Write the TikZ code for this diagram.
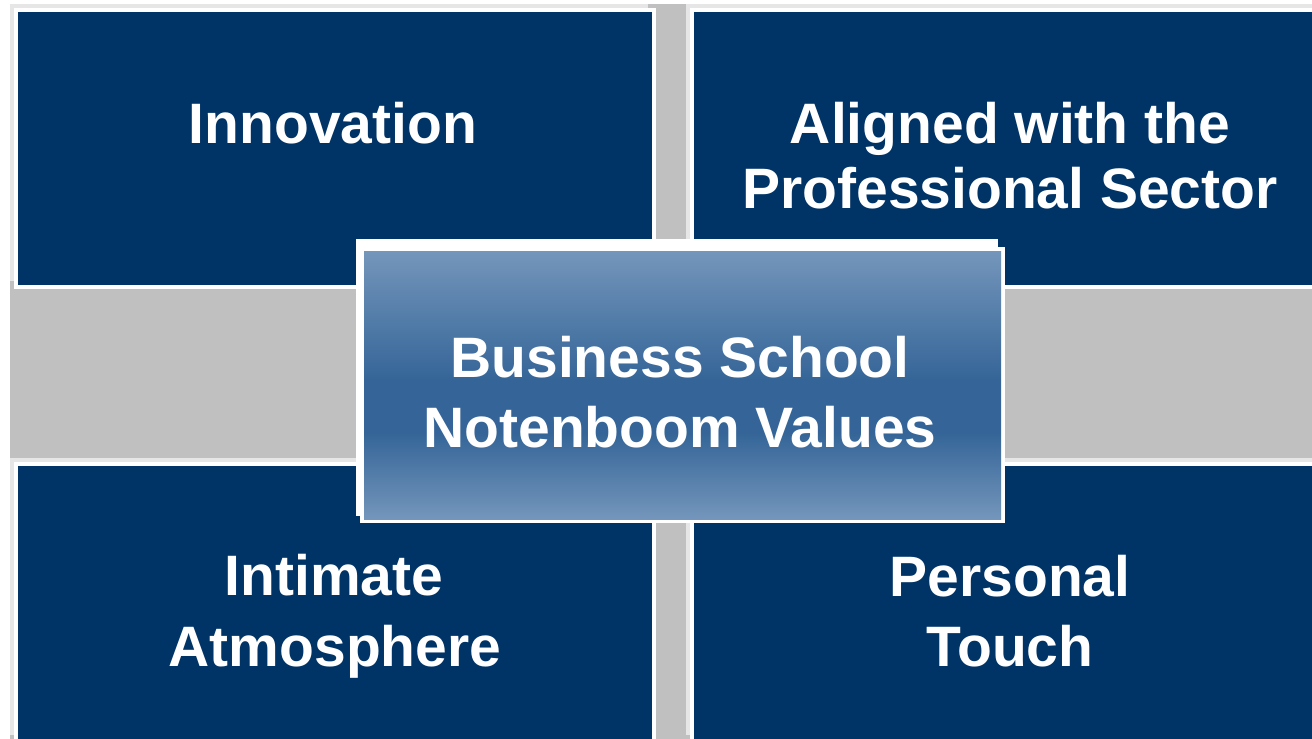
\documentclass[tikz,border=0pt]{standalone}
\usepackage{fontspec}
\setmainfont{Liberation Sans}
\definecolor{navy}{RGB}{0,51,102}
\definecolor{bandgrey}{RGB}{192,192,192}
\definecolor{framegrey}{RGB}{230,230,230}
\definecolor{gradlight}{RGB}{116,150,187}
\definecolor{graddark}{RGB}{53,101,152}
\pgfdeclareverticalshading{centreshade}{100bp}{color(0bp)=(gradlight); color(25bp)=(gradlight); color(41bp)=(graddark); color(51bp)=(graddark); color(75bp)=(gradlight); color(100bp)=(gradlight)}
\tikzset{
  bandfill/.style={fill=bandgrey, draw=none},
  framefill/.style={fill=framegrey, draw=none},
  ringfill/.style={fill=white, draw=none},
  navyfill/.style={fill=navy, draw=none},
  centrefill/.style={shading=centreshade, draw=none},
  label/.style={text=white, inner sep=0pt, anchor=base, font=\bfseries\fontsize{57}{68}\selectfont}
}
\begin{document}
\begin{tikzpicture}[x=1pt, y=-1pt]
\useasboundingbox (0,0) rectangle (1312,739);
\clip (0,0) rectangle (1312,739);
\fill[white] (0,0) rectangle (1312,739);
% grey background cross
\path[bandfill] (10,4) rectangle (1320,745);
% top-left box
\path[framefill] (10,4) rectangle (648,281);
\path[ringfill] (14,8) rectangle (656,289);
\path[navyfill] (18,12) rectangle (652,285);
% top-right box
\path[framefill] (686,4) rectangle (1312,281);
\path[ringfill] (690,8) rectangle (1320,289);
\path[navyfill] (694,12) rectangle (1316,285);
% bottom-left box
\path[framefill] (10,458) rectangle (648,735);
\path[ringfill] (14,462) rectangle (656,743);
\path[navyfill] (18,466) rectangle (652,739);
% bottom-right box
\path[framefill] (686,458) rectangle (1312,735);
\path[ringfill] (690,462) rectangle (1320,743);
\path[navyfill] (694,466) rectangle (1316,739);
% centre box
\path[ringfill] (356,239) rectangle (998,516);
\path[ringfill] (360,247) rectangle (1005,523);
\path[centrefill] (364,251) rectangle (1001,519);
% texts
\node[label] (innov) at (333,143) {Innovation};
\node[label] (align1) at (1010,143) {Aligned with the};
\node[label] (align2) at (1010,208) {Professional Sector};
\node[label] (centre1) at (680,377) {Business School};
\node[label] (centre2) at (680,447) {Notenboom Values};
\node[label] (intim1) at (334,595) {Intimate};
\node[label] (intim2) at (335,666) {Atmosphere};
\node[label] (pers1) at (1010,596) {Personal};
\node[label] (pers2) at (1010,666) {Touch};
\end{tikzpicture}
\end{document}
